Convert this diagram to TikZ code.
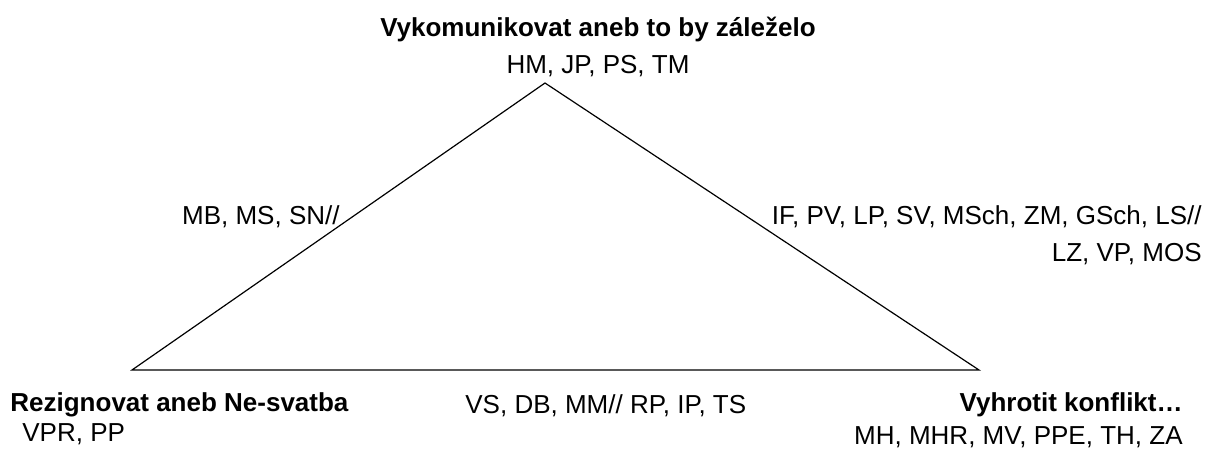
\documentclass[tikz,border=0pt]{standalone}
\usepackage{fontspec}
\setmainfont{Liberation Sans}
\usetikzlibrary{positioning}

\begin{document}
\begin{tikzpicture}[x=0.5pt,y=-0.5pt,
  lbl/.style={inner sep=0pt,font=\fontsize{13}{18.5}\selectfont},
  ttl/.style={inner sep=0pt,font=\fontsize{13}{18.5}\selectfont\bfseries},
  edge/.style={line width=0.6pt}]
\useasboundingbox (0,0) rectangle (1212,454);
% corners
\coordinate (top) at (545,83);
\coordinate (left) at (132,370);
\coordinate (right) at (979,370);
\draw[edge] (left) -- (top) -- (right) -- cycle;
% corner titles
\node[ttl,anchor=base] (toptitle) at (598,37) {Vykomunikovat aneb to by záleželo};
\node[lbl,anchor=base] (topnames) at (598,74) {HM, JP, PS, TM};
\node[ttl,anchor=base west] (lefttitle) at (10,412) {Rezignovat aneb Ne-svatba};
\node[lbl,anchor=base west] (leftnames) at (22,442) {VPR, PP};
\node[ttl,anchor=base east] (righttitle) at (1183,412) {Vyhrotit konflikt…};
\node[lbl,anchor=base east] (rightnames) at (1183,445) {MH, MHR, MV, PPE, TH, ZA};
% side labels
\node[lbl,anchor=base east] (leftside) at (340,225) {MB, MS, SN//};
\node[lbl,anchor=base east] (rightside) at (1202,225) {IF, PV, LP, SV, MSch, ZM, GSch, LS//};
\node[lbl,anchor=base east] (rightside2) at (1202,262) {LZ, VP, MOS};
\node[lbl,anchor=base west] (bottomside) at (465,414) {VS, DB, MM// RP, IP, TS};
\end{tikzpicture}
\end{document}
